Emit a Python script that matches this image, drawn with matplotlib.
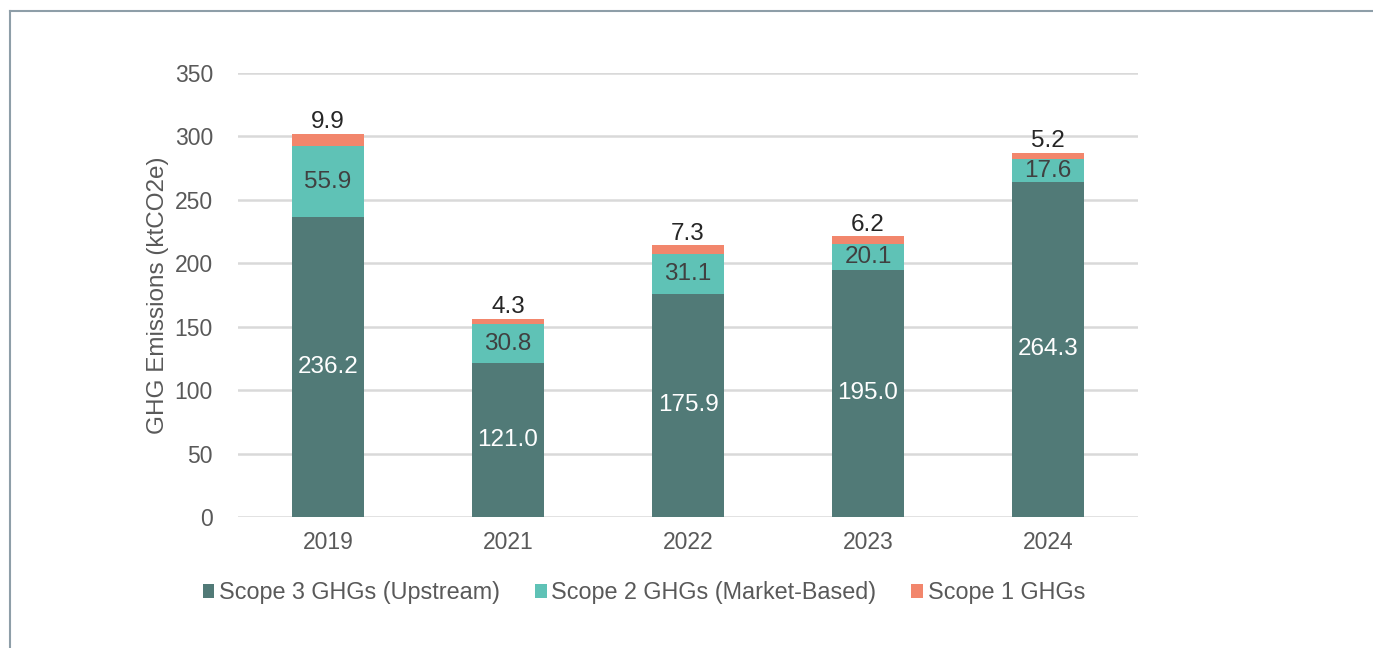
import matplotlib.pyplot as plt
import numpy as np

plt.rcParams['font.family'] = ['Liberation Sans', 'DejaVu Sans']

years = ['2019', '2021', '2022', '2023', '2024']
scope3 = [236.2, 121.0, 175.9, 195.0, 264.3]
scope2 = [55.9, 30.8, 31.1, 20.1, 17.6]
scope1 = [9.9, 4.3, 7.3, 6.2, 5.2]

c3 = '#517a77'
c2 = '#5fc2b6'
c1 = '#f2866c'
text_col = '#595959'

fig = plt.figure(figsize=(13.73, 6.48), dpi=100)
ax = fig.add_axes([0.1733, 0.2022, 0.6556, 0.6851])

x = np.arange(len(years))
s3 = np.array(scope3)
s2 = np.array(scope2)
s1 = np.array(scope1)
w = 0.4

b3 = ax.bar(x, s3, w, color=c3, label='Scope 3 GHGs (Upstream)', zorder=3)
b2 = ax.bar(x, s2, w, bottom=s3, color=c2, label='Scope 2 GHGs (Market-Based)', zorder=3)
b1 = ax.bar(x, s1, w, bottom=s3 + s2, color=c1, label='Scope 1 GHGs', zorder=3)

for i in range(len(years)):
    ax.text(x[i], s3[i] / 2, f'{s3[i]:.1f}', ha='center', va='center',
            color='white', fontsize=17.5, zorder=4)
    ax.text(x[i], s3[i] + s2[i] / 2, f'{s2[i]:.1f}', ha='center', va='center',
            color='#404040', fontsize=17.5, zorder=4)
    ax.text(x[i], s3[i] + s2[i] + s1[i] + 0.5, f'{s1[i]:.1f}', ha='center', va='bottom',
            color='#262626', fontsize=17.5, zorder=4)

ax.set_xlim(-0.5, 4.5)
ax.set_ylim(0, 350)
ax.set_yticks(range(0, 351, 50))
ax.set_xticks(x)
ax.set_xticklabels(years)
ax.tick_params(axis='both', length=0, labelsize=16.5, colors=text_col)
ax.tick_params(axis='y', pad=18)
ax.tick_params(axis='x', pad=10)
ax.yaxis.grid(True, color='#d9d9d9', linewidth=1.8, zorder=0)
for s in ax.spines.values():
    s.set_visible(False)
ax.set_ylabel('GHG Emissions (ktCO2e)', fontsize=17.5, color=text_col, labelpad=4)

leg = fig.legend(handles=[b3, b2, b1], loc='center', bbox_to_anchor=(0.469, 0.085),
                 ncol=3, frameon=False, fontsize=16.8, handlelength=0.5,
                 handleheight=0.5, handletextpad=0.2, columnspacing=1.5)
for t in leg.get_texts():
    t.set_color(text_col)

# thin frame around the figure (top and left edges visible)
fig.add_artist(plt.Line2D([0.0073, 1.0], [0.983, 0.983], color='#8e9ea8', linewidth=1.5,
                          transform=fig.transFigure))
fig.add_artist(plt.Line2D([0.0073, 0.0073], [0.0, 0.983], color='#8e9ea8', linewidth=1.5,
                          transform=fig.transFigure))

fig.savefig('out.png', dpi=100)
